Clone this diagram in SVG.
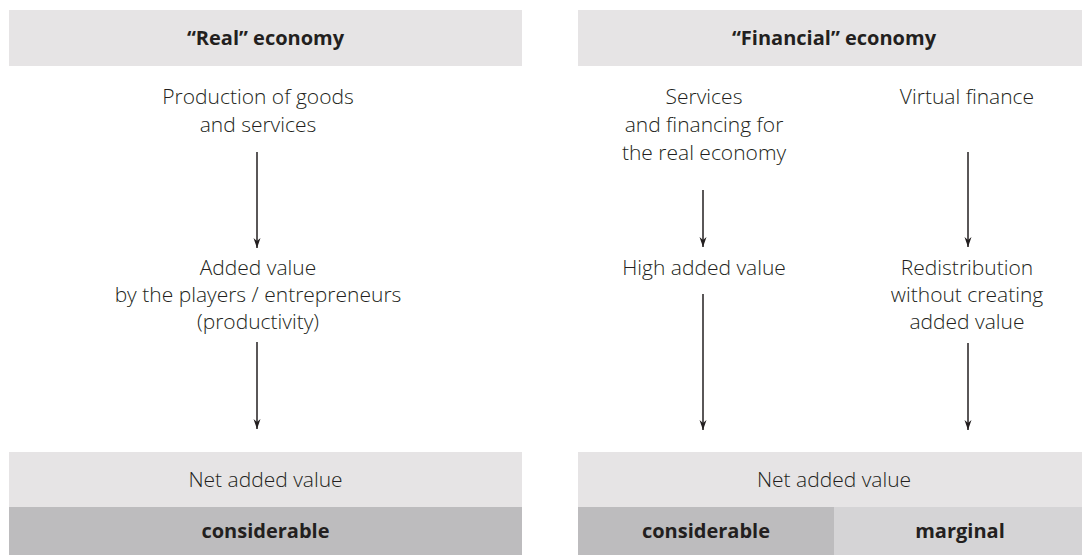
<svg xmlns="http://www.w3.org/2000/svg" width="1082" height="555" viewBox="0 0 1082 555">
<style>
.t{font-family:"Open Sans","Noto Sans",sans-serif;font-size:21px;font-weight:300;fill:#231f20;text-anchor:middle}
.b{font-family:"Open Sans","Noto Sans",sans-serif;font-size:20px;font-weight:700;fill:#231f20;text-anchor:middle}
.c{stroke:#231f20;stroke-width:1.5;fill:none;marker-end:url(#ah)}
</style>
<defs>
<marker id="ah" markerUnits="userSpaceOnUse" viewBox="0 -4 10 8" refX="10" refY="0" markerWidth="10" markerHeight="8" orient="auto">
<path d="M0,-3.5 L10,0 L0,3.5 L3,0 z" fill="#231f20"/>
</marker>
</defs>
<rect width="1082" height="555" fill="#ffffff"/>
<g id="header-real"><rect x="9" y="10" width="513" height="56" fill="#e6e4e5"/><text class="b" x="265.5" y="45">“Real” economy</text></g>
<g id="header-financial"><rect x="578" y="10" width="504" height="56" fill="#e6e4e5"/><text class="b" x="834" y="45">“Financial” economy</text></g>
<g id="production"><text class="t" x="258" y="104">Production of goods</text><text class="t" x="258" y="132">and services</text></g>
<g id="added-value"><text class="t" x="258" y="275">Added value</text><text class="t" x="258" y="302">by the players / entrepreneurs</text><text class="t" x="258" y="329">(productivity)</text></g>
<g id="services"><text class="t" x="704" y="104">Services</text><text class="t" x="704" y="132">and financing for</text><text class="t" x="704" y="160">the real economy</text></g>
<g id="high-added"><text class="t" x="704" y="275">High added value</text></g>
<g id="virtual"><text class="t" x="967" y="104">Virtual finance</text></g>
<g id="redistribution"><text class="t" x="967" y="275">Redistribution</text><text class="t" x="967" y="302">without creating</text><text class="t" x="967" y="329">added value</text></g>
<g id="net-left"><rect x="9" y="452" width="513" height="55" fill="#e6e4e5"/><text class="t" x="265.5" y="487">Net added value</text></g>
<g id="considerable-left"><rect x="9" y="507" width="513" height="48" fill="#bdbcbe"/><text class="b" x="265.5" y="538">considerable</text></g>
<g id="net-right"><rect x="578" y="452" width="504" height="55" fill="#e6e4e5"/><text class="t" x="834" y="487">Net added value</text></g>
<g id="considerable-right"><rect x="578" y="507" width="256" height="48" fill="#bdbcbe"/><text class="b" x="706" y="538">considerable</text></g>
<g id="marginal"><rect x="834" y="507" width="248" height="48" fill="#d5d4d6"/><text class="b" x="960" y="538">marginal</text></g>
<g id="connectors">
<line class="c" x1="257" y1="152" x2="257" y2="248"/>
<line class="c" x1="257" y1="342" x2="257" y2="429"/>
<line class="c" x1="703" y1="190" x2="703" y2="247"/>
<line class="c" x1="703" y1="294" x2="703" y2="430"/>
<line class="c" x1="968" y1="152" x2="968" y2="247"/>
<line class="c" x1="968" y1="343" x2="968" y2="430"/>
</g>
</svg>
